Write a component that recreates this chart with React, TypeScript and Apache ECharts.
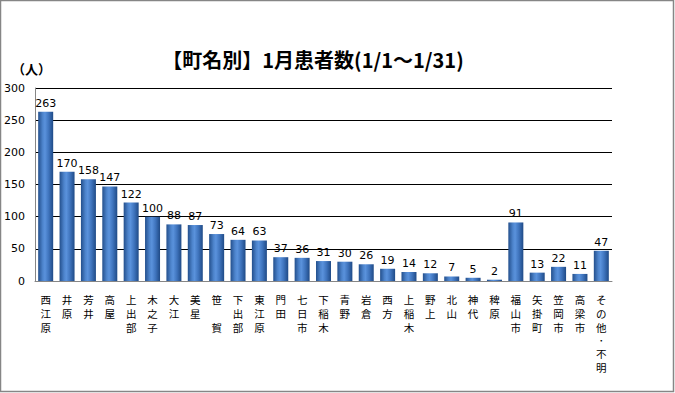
import React, { useEffect, useRef } from "react";
import * as echarts from "echarts";

const categories = [
  "西江原", "井原", "芳井", "高屋", "上出部", "木之子", "大江", "美星", "笹　賀",
  "下出部", "東江原", "門田", "七日市", "下稲木", "青野", "岩倉", "西方", "上稲木",
  "野上", "北山", "神代", "稗原", "福山市", "矢掛町", "笠岡市", "高梁市", "その他・不明",
];
const patients = [
  263, 170, 158, 147, 122, 100, 88, 87, 73, 64, 63, 37, 36, 31, 30, 26, 19, 14,
  12, 7, 5, 2, 91, 13, 22, 11, 47,
];
const titleText = "【町名別】1月患者数(1/1～1/31)";
const unitText = "（人）";

export default function App() {
  const ref = useRef<HTMLDivElement>(null);
  useEffect(() => {
    document.body.style.margin = "0";
    const chart = echarts.init(ref.current!, null, { renderer: "svg" });
    const cjk = '"Noto Sans CJK JP", sans-serif';
    const num = '"DejaVu Sans", Verdana, sans-serif';
    chart.setOption({
      animation: false,
      backgroundColor: "#ffffff",
      title: {
        text: titleText,
        left: 308,
        textAlign: "center",
        top: 44,
        textStyle: { fontFamily: cjk, fontWeight: "bold", fontSize: 20, color: "#000" },
      },
      graphic: [
        {
          type: "rect",
          shape: { x: 0.5, y: 0.5, width: 673, height: 391 },
          style: { fill: "none", stroke: "#868686", lineWidth: 1.5 },
          silent: true,
        },
        {
          type: "text",
          left: 12,
          top: 62,
          style: { text: unitText, font: `bold 13px ${cjk}`, fill: "#000" },
        },
      ],
      grid: { left: 35, right: 63, top: 88, bottom: 112, containLabel: false },
      xAxis: {
        type: "category",
        data: categories,
        axisLine: { show: true, lineStyle: { color: "#868686", width: 1 } },
        axisTick: { show: false },
        axisLabel: {
          interval: 0,
          margin: 11,
          fontFamily: cjk,
          fontSize: 10.5,
          lineHeight: 14,
          color: "#000",
          verticalAlign: "top",
          formatter: (v: string) =>
            Array.from(v)
              .map((c) => (c === "　" ? " " : c === "・" ? "{d|・}" : c))
              .join("\n"),
          rich: {
            d: { fontFamily: cjk, fontSize: 8, lineHeight: 12, color: "#000" },
          },
        },
      },
      yAxis: {
        type: "value",
        min: 0,
        max: 300,
        interval: 50,
        axisLine: { show: true, lineStyle: { color: "#868686", width: 1 } },
        axisTick: { show: false },
        splitLine: { show: true, lineStyle: { color: "#000", width: 1 } },
        axisLabel: { fontFamily: num, fontSize: 11, color: "#000", margin: 10 },
      },
      series: [
        {
          type: "bar",
          data: patients,
          barWidth: 15,
          itemStyle: {
            color: new echarts.graphic.LinearGradient(0, 0, 1, 0, [
              { offset: 0, color: "#234f8c" },
              { offset: 0.3, color: "#4d84cc" },
              { offset: 0.45, color: "#5a92dc" },
              { offset: 0.7, color: "#3f74bd" },
              { offset: 1, color: "#1f4a86" },
            ]),
          },
          label: {
            show: true,
            position: "top",
            distance: 3,
            fontFamily: num,
            fontSize: 11,
            color: "#000",
          },
        },
      ],
    });
    return () => chart.dispose();
  }, []);
  return <div ref={ref} style={{ width: 675, height: 393 }} />;
}
